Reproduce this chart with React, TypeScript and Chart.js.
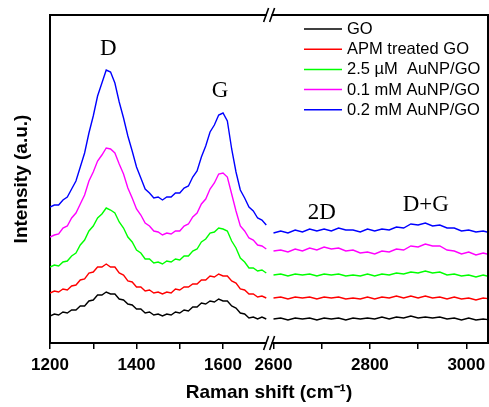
import React, { useEffect, useRef } from 'react';
import { Chart, registerables } from 'chart.js';

Chart.register(...registerables);

const seriesLabels = ['GO', 'APM treated GO', '2.5 \u00b5M  AuNP/GO', '0.1 mM AuNP/GO', '0.2 mM AuNP/GO'];
const seriesColors = ['#000000', '#ff0000', '#00ff00', '#ff00ff', '#0000ff'];

// Raman shift (cm-1), left part of the broken axis
const lowShift = [
  1200, 1210, 1220, 1230, 1240, 1250, 1260, 1270, 1280, 1290,
  1300, 1310, 1320, 1330, 1340, 1350, 1360, 1370, 1380, 1390,
  1400, 1410, 1420, 1430, 1440, 1450, 1460, 1470, 1480, 1490,
  1500, 1510, 1520, 1530, 1540, 1550, 1560, 1570, 1580, 1590,
  1600, 1610, 1620, 1630, 1640, 1650, 1660, 1670, 1680, 1690, 1700,
];
// Raman shift (cm-1), right part of the broken axis
const highShift = [
  2600, 2615, 2630, 2645, 2660, 2675, 2690, 2705, 2720, 2735,
  2750, 2765, 2780, 2795, 2810, 2825, 2840, 2855, 2870, 2885,
  2900, 2915, 2930, 2945, 2960, 2975, 2990, 3005, 3020, 3035, 3050,
];

// Offset intensities (a.u.)
const goLow = [27,29,28,31,30,33,33,37,37,42,43,48,48,51,49,49,44,43,39,38,34,34,30,31,28,29,27,29,28,31,30,33,32,36,36,40,39,42,41,44,42,42,37,35,30,29,25,26,24,26,24];
const apmLow = [50,52,51,54,53,57,58,63,64,70,71,76,76,79,76,76,70,68,62,61,56,56,52,53,50,51,49,51,50,54,53,56,56,59,59,63,63,67,66,69,67,67,62,60,54,53,49,49,46,47,45];
const au25Low = [76,78,77,81,82,87,90,98,103,112,117,125,129,135,133,130,121,115,106,101,93,90,84,84,80,81,79,82,81,84,83,87,87,92,94,101,104,110,111,115,114,112,102,95,85,81,75,75,72,73,70];
const au01Low = [106,108,109,115,117,125,130,139,148,162,171,182,188,195,194,190,179,169,155,145,134,128,120,117,112,111,108,110,109,112,112,117,119,126,130,139,144,154,160,169,170,166,149,132,117,112,105,103,98,97,94];
const au02Low = [136,138,138,143,146,154,162,176,190,210,227,247,260,273,271,260,241,225,207,192,176,165,154,150,145,146,143,146,146,150,150,155,157,166,172,186,197,211,218,228,230,222,194,171,153,145,136,132,125,123,118];

const goHigh = [24,25,23,25,24,25,23,25,24,25,23,25,24,25,24,26,24,26,25,27,25,26,25,26,24,25,23,25,23,24,23];
const apmHigh = [45,46,44,46,45,46,44,46,45,46,44,45,44,46,44,46,45,47,45,47,45,47,45,46,44,46,44,45,43,45,44];
const au25High = [68,69,67,69,68,69,67,69,68,69,67,68,67,69,67,69,68,70,69,71,70,72,70,71,68,69,67,68,66,68,66];
const au01High = [92,93,91,94,92,95,93,96,94,95,92,93,90,91,89,92,91,94,93,97,96,99,97,97,93,92,89,91,88,90,88];
const au02High = [110,112,110,113,111,114,112,114,112,115,113,113,111,114,112,114,113,116,115,119,118,120,117,118,115,115,112,113,111,112,110];

const lowSeries = [goLow, apmLow, au25Low, au01Low, au02Low];
const highSeries = [goHigh, apmHigh, au25High, au01High, au02High];

const lowTicks = [1200, 1300, 1400, 1500, 1600];
const highTicks = [2600, 2700, 2800, 2900, 3000];

const peakLabels = ['D', 'G', '2D', 'D+G'];
const peakAxis = ['x1', 'x1', 'x2', 'x2'];
const peakShift = [1335, 1593, 2700, 2916];
const peakLevel = [294, 252, 130, 138];

const SANS = "'Liberation Sans', Arial, sans-serif";
const SERIF = "'Liberation Serif', 'Times New Roman', serif";

const decorPlugin = {
  id: 'decor',
  afterDraw(chart: any) {
    const ctx = chart.ctx;
    const a = chart.chartArea;
    ctx.save();
    ctx.strokeStyle = '#000';
    ctx.lineWidth = 2;
    ctx.beginPath();
    ctx.moveTo(a.left - 1, a.top);
    ctx.lineTo(a.right, a.top);
    ctx.lineTo(a.right, a.bottom + 1);
    ctx.stroke();

    // axis break marks
    const bx = chart.scales.x1.right;
    for (const y of [a.top, a.bottom]) {
      ctx.fillStyle = '#fff';
      ctx.fillRect(bx - 4, y - 2, 5, 4);
      ctx.lineWidth = 1.6;
      ctx.beginPath();
      ctx.moveTo(bx - 7, y + 7);
      ctx.lineTo(bx - 2, y - 7);
      ctx.moveTo(bx - 1, y + 7);
      ctx.lineTo(bx + 4, y - 7);
      ctx.stroke();
    }

    // legend
    ctx.font = `16.5px ${SANS}`;
    ctx.textBaseline = 'middle';
    ctx.textAlign = 'left';
    seriesLabels.forEach((lab, i) => {
      const y = 29 + i * 20.2;
      ctx.strokeStyle = seriesColors[i];
      ctx.lineWidth = 1.5;
      ctx.beginPath();
      ctx.moveTo(304, y);
      ctx.lineTo(342, y);
      ctx.stroke();
      ctx.fillStyle = '#000';
      ctx.fillText(lab, 347, y + 0.5);
    });

    // peak annotations
    ctx.font = `23px ${SERIF}`;
    ctx.textAlign = 'center';
    ctx.fillStyle = '#000';
    peakLabels.forEach((lab, i) => {
      const x = chart.scales[peakAxis[i]].getPixelForValue(peakShift[i]);
      const y = chart.scales.y.getPixelForValue(peakLevel[i]);
      ctx.fillText(lab, x, y);
    });
    ctx.restore();
  },
};

export default function App() {
  const ref = useRef<HTMLCanvasElement | null>(null);

  useEffect(() => {
    if (!ref.current) return;
    const datasets: any[] = [];
    lowSeries.forEach((vals, i) => {
      datasets.push({
        label: seriesLabels[i],
        data: vals.map((v, k) => ({ x: lowShift[k], y: v })),
        borderColor: seriesColors[i],
        borderWidth: 1.4,
        pointRadius: 0,
        xAxisID: 'x1',
        yAxisID: 'y',
      });
    });
    highSeries.forEach((vals, i) => {
      datasets.push({
        label: seriesLabels[i] + ' (high)',
        data: vals.map((v, k) => ({ x: highShift[k], y: v })),
        borderColor: seriesColors[i],
        borderWidth: 1.4,
        pointRadius: 0,
        xAxisID: 'x2',
        yAxisID: 'y',
      });
    });

    const tickFont = { family: SANS, weight: 'bold' as const, size: 17 };
    const titleFont = { family: SANS, weight: 'bold' as const, size: 19 };
    const fitBottom = (s: any) => {
      s.height = 40;
      s.paddingLeft = 0;
      s.paddingRight = 0;
    };

    const chart = new Chart(ref.current, {
      type: 'line',
      data: { datasets },
      options: {
        animation: false,
        responsive: false,
        devicePixelRatio: 1,
        layout: { padding: { left: 0, top: 15, right: 1, bottom: 0 } },
        plugins: { legend: { display: false }, tooltip: { enabled: false } },
        scales: {
          x1: {
            type: 'linear',
            position: 'bottom',
            stack: 'xb',
            stackWeight: 220.6,
            min: 1200,
            max: 1710,
            afterBuildTicks: (s: any) => { s.ticks = lowTicks.map((v) => ({ value: v })); },
            afterFit: fitBottom,
            ticks: {
              autoSkip: false,
              maxRotation: 0,
              color: '#000',
              font: tickFont,
              padding: 6,
              callback: (v: any) => (Number(v) % 200 === 0 ? String(v) : ''),
            },
            grid: { display: true, drawOnChartArea: false, drawTicks: true, tickLength: 6, color: '#000', lineWidth: 1.5 },
            border: { display: true, color: '#000', width: 2 },
          },
          x2: {
            type: 'linear',
            position: 'bottom',
            stack: 'xb',
            stackWeight: 217.4,
            min: 2594,
            max: 3045,
            afterBuildTicks: (s: any) => { s.ticks = highTicks.map((v) => ({ value: v })); },
            afterFit: fitBottom,
            ticks: {
              autoSkip: false,
              maxRotation: 0,
              color: '#000',
              font: tickFont,
              padding: 6,
              callback: (v: any) => (Number(v) % 200 === 0 ? String(v) : ''),
            },
            grid: { display: true, drawOnChartArea: false, drawTicks: true, tickLength: 6, color: '#000', lineWidth: 1.5 },
            border: { display: true, color: '#000', width: 2 },
          },
          x3: {
            type: 'linear',
            position: 'bottom',
            weight: 1,
            afterFit: (s: any) => { s.height = 24; s.paddingLeft = 0; s.paddingRight = 0; },
            ticks: { display: false },
            grid: { display: false },
            border: { display: false },
            title: {
              display: true,
              text: 'Raman shift (cm\u207b\u00b9)',
              color: '#000',
              font: titleFont,
              padding: { top: 0, bottom: 3 },
            },
          },
          y: {
            type: 'linear',
            position: 'left',
            min: 0,
            max: 328,
            afterFit: (s: any) => { s.width = 50; },
            ticks: { display: false },
            grid: { display: false },
            border: { display: true, color: '#000', width: 2 },
            title: {
              display: true,
              text: 'Intensity (a.u.)',
              color: '#000',
              font: titleFont,
              padding: { top: 10, bottom: 0 },
            },
          },
        },
      } as any,
      plugins: [decorPlugin],
    });
    return () => chart.destroy();
  }, []);

  return (
    <div style={{ position: 'absolute', left: 0, top: 0, width: 489, height: 407, background: '#fff' }}>
      <canvas ref={ref} width={489} height={407} style={{ display: 'block' }} />
    </div>
  );
}
